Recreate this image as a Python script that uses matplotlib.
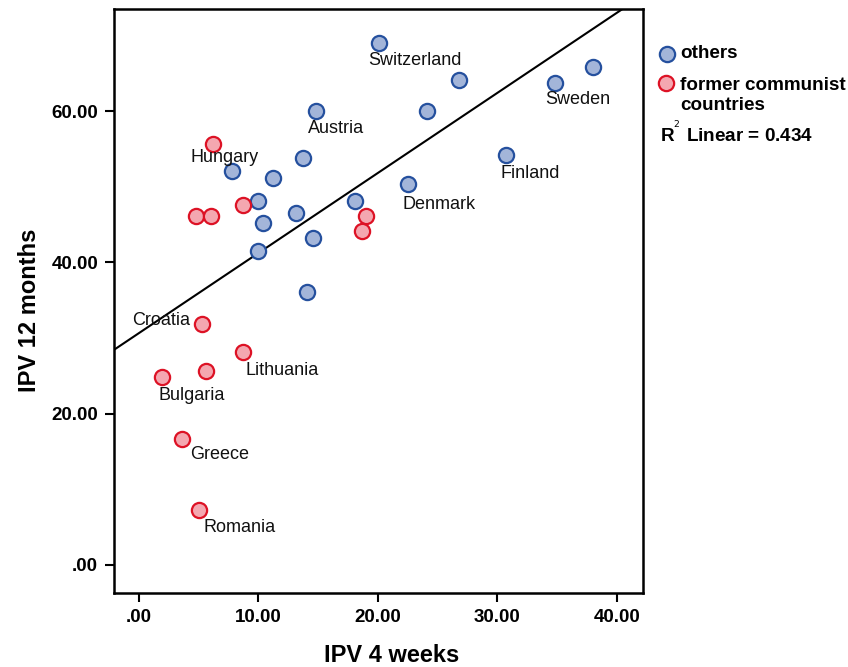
import numpy as np
import matplotlib
matplotlib.use("Agg")
import matplotlib.pyplot as plt
from matplotlib.lines import Line2D

plt.rcParams['font.family'] = ['Liberation Sans', 'DejaVu Sans']

# others
others_x = [20.1, 14.8, 7.8, 13.7, 11.2, 10.0, 10.4, 13.1, 10.0, 14.6,
            14.1, 18.1, 22.5, 24.1, 26.8, 34.8, 38.0, 30.7]
others_y = [69.0, 60.0, 52.1, 53.8, 51.2, 48.2, 45.2, 46.5, 41.5, 43.2,
            36.1, 48.2, 50.4, 60.0, 64.2, 63.7, 65.9, 54.2]
others_names = ['Switzerland', 'Austria', '', '', '', '', '', '', '', '',
                '', '', 'Denmark', '', '', 'Sweden', '', 'Finland']

# former communist countries
fcc_x = [6.2, 8.7, 4.8, 6.0, 19.0, 18.7, 5.3, 8.7, 5.6, 1.9, 3.6, 5.0]
fcc_y = [55.7, 47.6, 46.2, 46.2, 46.2, 44.2, 31.8, 28.1, 25.6, 24.8, 16.6, 7.2]
fcc_names = ['Hungary', '', '', '', '', '', 'Croatia', 'Lithuania', '',
             'Bulgaria', 'Greece', 'Romania']

# label offsets in pixels (dx, dy down), ha
label_offsets = {
    'Switzerland': (-11, 17, 'left'),
    'Austria': (-8, 17, 'left'),
    'Denmark': (-5, 21, 'left'),
    'Sweden': (-9, 16, 'left'),
    'Finland': (-5, 18, 'left'),
    'Hungary': (-23, 14, 'left'),
    'Croatia': (-12, -4, 'right'),
    'Lithuania': (3, 18, 'left'),
    'Bulgaria': (-3, 18, 'left'),
    'Greece': (8, 15, 'left'),
    'Romania': (5, 17, 'left'),
}

x_ticks = [0, 10, 20, 30, 40]
y_ticks = [0, 20, 40, 60]

blue_face, blue_edge = '#a3b5d9', '#25509e'
red_face, red_edge = '#f4a7b0', '#dd1225'

W, H = 848, 667
fig = plt.figure(figsize=(W / 100, H / 100), dpi=100)
ax = fig.add_axes([114 / W, 1 - 593 / H, 529 / W, 584 / H])
ax.set_xlim(-2.1, 42.2)
ax.set_ylim(-3.75, 73.55)

ax.scatter(others_x, others_y, s=120, c=blue_face, edgecolors=blue_edge,
           linewidths=1.6, zorder=3)
ax.scatter(fcc_x, fcc_y, s=120, c=red_face, edgecolors=red_edge,
           linewidths=1.6, zorder=3)

# linear fit on all points
all_x = np.array(others_x + fcc_x)
all_y = np.array(others_y + fcc_y)
slope, intercept = np.polyfit(all_x, all_y, 1)
lx = np.array(ax.get_xlim())
ax.plot(lx, slope * lx + intercept, color='black', lw=1.5, zorder=2)

for xs, ys, names in [(others_x, others_y, others_names),
                      (fcc_x, fcc_y, fcc_names)]:
    for x, y, n in zip(xs, ys, names):
        if not n:
            continue
        dx, dy, ha = label_offsets[n]
        ax.annotate(n, (x, y), xytext=(dx, -dy), textcoords='offset pixels',
                    ha=ha, va='center', fontsize=13, color='#111111',
                    zorder=4)

def fmt(v):
    s = f'{v:.2f}'
    return s[1:] if v == 0 else s

ax.set_xticks(x_ticks)
ax.set_yticks(y_ticks)
ax.set_xticklabels([fmt(v) for v in x_ticks])
ax.set_yticklabels([fmt(v) for v in y_ticks])
ax.tick_params(axis='both', direction='out', length=6.5, width=1.5,
               labelsize=13.5, pad=5)
for lab in ax.get_xticklabels() + ax.get_yticklabels():
    lab.set_fontweight('bold')
for sp in ax.spines.values():
    sp.set_linewidth(1.8)

fig.text(392 / W, 1 - 656 / H, 'IPV 4 weeks', ha='center', va='center',
         fontsize=17, fontweight='bold')
fig.text(30 / W, 1 - 310 / H, 'IPV 12 months', ha='center', va='center',
         fontsize=17, fontweight='bold', rotation=90)

# legend, placed by hand
for (px, py), fc, ec in [((667, 54), blue_face, blue_edge),
                         ((666, 83), red_face, red_edge)]:
    fig.add_artist(Line2D([px / W], [1 - py / H], transform=fig.transFigure,
                          marker='o', ls='', markersize=11,
                          markerfacecolor=fc, markeredgecolor=ec,
                          markeredgewidth=1.6))
legend_font = dict(fontsize=13.6, fontweight='bold', ha='left', va='center')
fig.text(680 / W, 1 - 54 / H, 'others', **legend_font)
fig.text(680 / W, 1 - 85 / H, 'former communist', **legend_font)
fig.text(680 / W, 1 - 105 / H, 'countries', **legend_font)
fig.text(660 / W, 1 - 134 / H, r'R$^{^2}$ Linear = 0.434', **legend_font)

fig.savefig('out.png', dpi=100)
